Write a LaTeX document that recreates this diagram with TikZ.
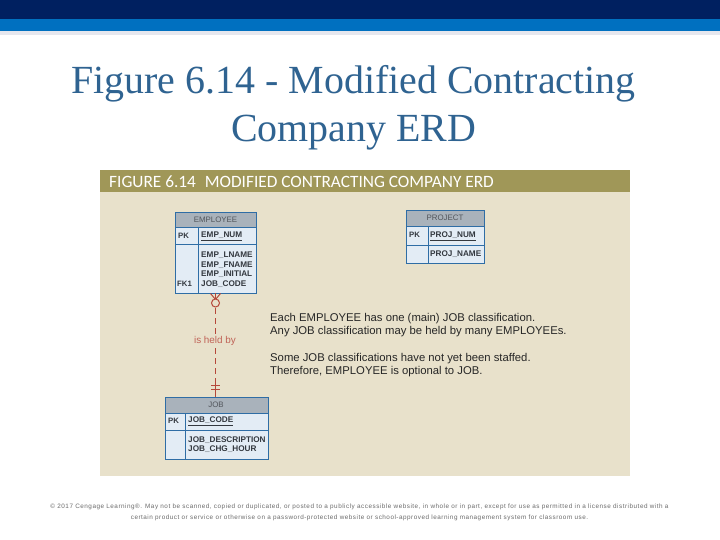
\documentclass[tikz,border=0pt]{standalone}
\usepackage{fontspec}
\setmainfont{Liberation Sans}
\newfontfamily\titlefont{Liberation Serif}
\newfontfamily\headfont{Carlito}
\newfontfamily\footfont[LetterSpace=8]{Liberation Sans}
\usetikzlibrary{calc}
\definecolor{navy}{HTML}{002060}
\definecolor{bandblue}{HTML}{0070C0}
\definecolor{bandlight}{HTML}{E6E7EE}
\definecolor{paneltan}{HTML}{E8E1CB}
\definecolor{headolive}{HTML}{A09758}
\definecolor{titleblue}{HTML}{2F6391}
\definecolor{tabhead}{HTML}{A9B2BB}
\definecolor{tabfill}{HTML}{E3ECF5}
\definecolor{tabline}{HTML}{2F6DA5}
\definecolor{relred}{HTML}{B5483A}
\definecolor{inktext}{HTML}{33383F}
\tikzset{
  x=1pt,y=-1pt,
  titletext/.style={font=\titlefont\fontsize{39.9}{48}\selectfont,text=titleblue,align=center,inner sep=0},
  paneltitle/.style={font=\headfont\fontsize{17.3}{20}\selectfont,text=white,anchor=west,inner sep=0},
  tabbody/.style={draw=tabline,line width=0.9pt,fill=tabfill,inner sep=0,anchor=north west},
  tabhd/.style={draw=tabline,line width=0.9pt,fill=tabhead},
  tabrule/.style={draw=tabline,line width=0.9pt},
  hdtext/.style={font=\fontsize{7.9}{9}\selectfont,text=inktext!85!white,inner sep=0},
  attr/.style={font=\bfseries\fontsize{8.2}{9.6}\selectfont,text=inktext,anchor=west,inner sep=0,align=left},
  keymark/.style={font=\bfseries\fontsize{7.8}{9}\selectfont,text=inktext,anchor=west,inner sep=0},
  note/.style={font=\fontsize{11.3}{13}\selectfont,text=black!85,anchor=west,inner sep=0,align=left},
  rel/.style={draw=relred,line width=1pt},
  rellabel/.style={font=\fontsize{9.9}{11}\selectfont,text=relred!85!white,fill=paneltan,inner sep=1pt},
  foot/.style={font=\footfont\fontsize{6.35}{11}\selectfont,text=black!58,align=center,inner sep=0}
}
\begin{document}
\begin{tikzpicture}
\useasboundingbox (0,0) rectangle (720,540);
\fill[white] (0,0) rectangle (720,540);
\fill[navy] (0,0) rectangle (720,19);
\fill[bandblue] (0,19) rectangle (720,31);
\fill[bandlight] (0,31) rectangle (720,35);
\node[titletext] (title) at (353.5,107.5) {Figure 6.14 - Modified Contracting\\Company ERD};
\fill[paneltan] (100,170) rectangle (630,476);
\fill[headolive] (100,170) rectangle (630,192);
\node[paneltitle] (ptitle) at (109,181.5) {FIGURE 6.14\hspace{5pt} MODIFIED CONTRACTING COMPANY ERD};

% EMPLOYEE
\node[tabbody,minimum width=81pt,minimum height=81pt] (emp) at (175,212) {};
\draw[tabhd] (175,212) rectangle (256,227);
\draw[tabrule] (175,244) -- (256,244) (198,227) -- (198,293);
\node[hdtext] (emph) at (215.5,219.5) {EMPLOYEE};
\node[keymark] (emppk) at (178,235.5) {PK};
\node[attr] (empnum) at (201,236.5) {\underline{EMP\_NUM}};
\node[attr] (empattrs) at (201,269.5) {EMP\_LNAME\\EMP\_FNAME\\EMP\_INITIAL\\JOB\_CODE};
\node[keymark] (empfk) at (177,284) {FK1};

% PROJECT
\node[tabbody,minimum width=78pt,minimum height=53pt] (proj) at (406,210) {};
\draw[tabhd] (406,210) rectangle (484,226);
\draw[tabrule] (406,245) -- (484,245) (428,226) -- (428,263);
\node[hdtext] (projh) at (445,218) {PROJECT};
\node[keymark] (projpk) at (409,235) {PK};
\node[attr] (projnum) at (430,236) {\underline{PROJ\_NUM}};
\node[attr] (projname) at (430,254) {PROJ\_NAME};

% JOB
\node[tabbody,minimum width=103pt,minimum height=62pt] (job) at (165,397) {};
\draw[tabhd] (165,397) rectangle (268,413);
\draw[tabrule] (165,430) -- (268,430) (185,413) -- (185,459);
\node[hdtext] (jobh) at (216,404.5) {JOB};
\node[keymark] (jobpk) at (168,420.5) {PK};
\node[attr] (jobcode) at (188,421.5) {\underline{JOB\_CODE}};
\node[attr] (jobattrs) at (188,444.5) {JOB\_DESCRIPTION\\JOB\_CHG\_HOUR};

% relationship
\coordinate (ctop) at (215.5,293);
\coordinate (cring) at (215.5,303);
\coordinate (cbot) at (215.5,397);
\coordinate (cdash) at (215.5,308);
\coordinate (cend) at (215.5,381);
\draw[rel,dash pattern=on 6pt off 4pt] (cdash) -- (cend);
\draw[rel] (cend) -- (cbot);
\draw[rel] (ctop) -- (cring);
\draw[rel] (210.5,293.5) -- (215.5,299.5) -- (220.5,293.5);
\draw[rel,fill=paneltan] (cring) circle[radius=4];
\draw[rel] (211,385) -- (220,385) (211,389) -- (220,389);
\node[rellabel] (rl) at (215,340.5) {is held by};

% notes
\node[note] (n1) at (270,318.5) {Each EMPLOYEE has one (main) JOB classification.};
\node[note] (n2) at (270,331.5) {Any JOB classification may be held by many EMPLOYEEs.};
\node[note] (n3) at (270,358.5) {Some JOB classifications have not yet been staffed.};
\node[note] (n4) at (270,371.5) {Therefore, EMPLOYEE is optional to JOB.};

\node[foot] (footer) at (359.5,512.5) {© 2017 Cengage Learning®. May not be scanned, copied or duplicated, or posted to a publicly accessible website, in whole or in part, except for use as permitted in a license distributed with a\\certain product or service or otherwise on a password-protected website or school-approved learning management system for classroom use.};
\end{tikzpicture}
\end{document}
